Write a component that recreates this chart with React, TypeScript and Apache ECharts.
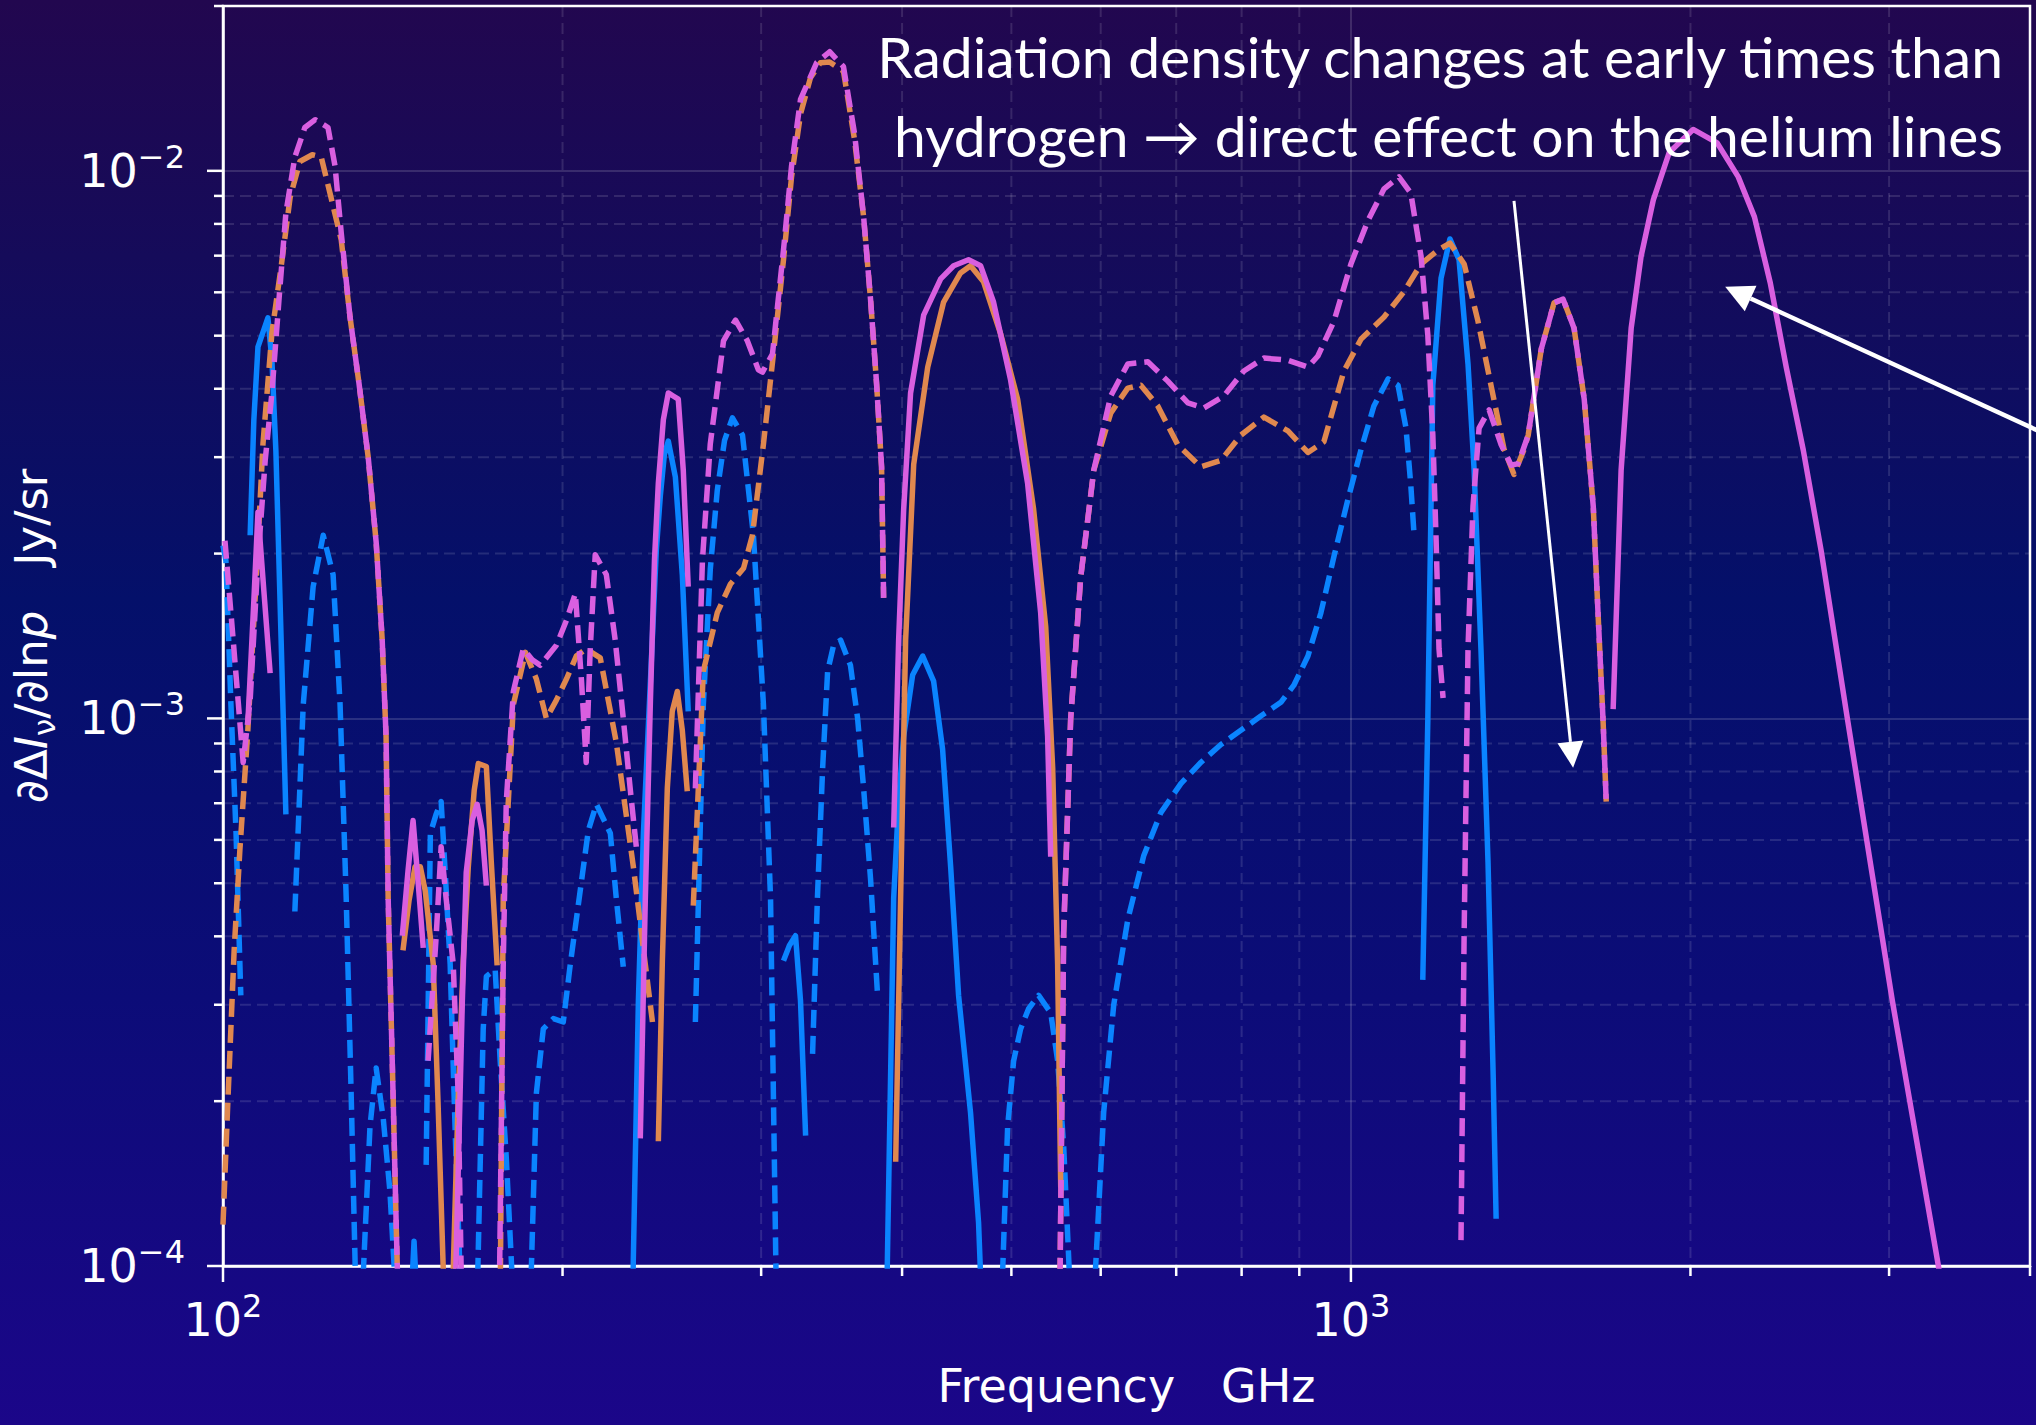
import React, { useEffect, useRef } from 'react';
import * as echarts from 'echarts';

type Pt = [number, number];
type Segments = Pt[][];

// Frequency (GHz) / response (Jy/sr) pairs; each inner array is one unbroken stretch of a curve
const blueSolid: Segments = [
  [[105.7, 2.16e-3], [106.5, 3.51e-3], [107.4, 4.77e-3], [109.6, 5.39e-3], [110.5, 4.51e-3], [111.4, 3.08e-3], [112.6, 1.39e-3], [113.7, 6.68e-4]],
  [[146.8, 8.6e-5], [147.7, 1.11e-4], [148.6, 8.6e-5]],
  [[230.7, 8.6e-5], [233.5, 3.05e-4], [235.9, 6.17e-4], [239.3, 1.17e-3], [242.2, 2.03e-3], [244.2, 2.55e-3], [246.2, 3.03e-3], [248.2, 3.21e-3], [251.8, 2.76e-3], [255.4, 1.83e-3], [258.5, 1.03e-3]],
  [[314.0, 3.61e-4], [317.8, 3.85e-4], [321.8, 4.01e-4], [325.1, 3.05e-4], [328.5, 1.73e-4]],
  [[387.6, 8.6e-5], [393.2, 4.69e-4], [397.2, 7.08e-4], [401.3, 9.27e-4], [408.7, 1.2e-3], [417.2, 1.3e-3], [426.6, 1.17e-3], [434.5, 8.78e-4], [441.7, 5.36e-4], [448.9, 3.12e-4], [460.0, 1.905e-4], [467.6, 1.2e-4], [470.5, 8.6e-5]],
  [[1158, 3.33e-4], [1170, 9.96e-4], [1182, 4.06e-3], [1202, 6.37e-3], [1224, 7.51e-3], [1247, 6.88e-3], [1270, 4.44e-3], [1286, 2.84e-3], [1304, 1.34e-3], [1323, 5.46e-4], [1337, 2.22e-4], [1345, 1.22e-4]],
];

const orangeSolid: Segments = [
  [[144.4, 3.77e-4], [146.2, 4.65e-4], [148.0, 5.36e-4], [149.6, 5.36e-4], [151.1, 4.85e-4], [153.6, 3.56e-4], [155.1, 2.0e-4], [157.1, 8.6e-5]],
  [[159.7, 8.6e-5], [161.6, 2.0e-4], [163.3, 3.61e-4], [165.0, 5.36e-4], [167.0, 7.39e-4], [168.4, 8.27e-4], [171.2, 8.17e-4], [172.9, 5.5e-4], [175.0, 3.54e-4]],
  [[243.2, 1.69e-4], [245.2, 3.61e-4], [247.7, 7.45e-4], [250.2, 1.03e-3], [252.8, 1.12e-3], [255.4, 9.51e-4], [258.0, 7.36e-4]],
  [[394.8, 1.55e-4], [398.8, 4.69e-4], [402.9, 1.39e-3], [409.6, 2.91e-3], [421.5, 4.38e-3], [435.4, 5.76e-3], [450.7, 6.51e-3], [460.0, 6.71e-3], [472.4, 6.27e-3], [489.1, 5.04e-3], [506.4, 3.83e-3], [523.2, 2.41e-3], [536.3, 1.47e-3], [544.0, 8.1e-4], [549.5, 3.56e-4], [553.0, 1.39e-4]],
];

const pinkSolid: Segments = [
  [[105.2, 9.79e-4], [106.5, 1.64e-3], [107.4, 2.38e-3], [108.7, 1.71e-3], [110.1, 1.21e-3]],
  [[144.2, 4.01e-4], [145.9, 5.27e-4], [147.4, 6.51e-4], [148.9, 5.06e-4], [150.5, 3.81e-4]],
  [[160.6, 8.6e-5], [163.0, 3.05e-4], [164.3, 5.23e-4], [166.3, 6.51e-4], [168.0, 6.97e-4], [169.7, 6.24e-4], [171.2, 4.95e-4]],
  [[234.4, 1.71e-4], [236.8, 4.65e-4], [239.3, 1.08e-3], [241.3, 1.95e-3], [243.2, 2.69e-3], [245.7, 3.51e-3], [248.2, 3.93e-3], [250.7, 3.88e-3], [253.3, 3.83e-3], [255.9, 2.84e-3], [258.5, 1.74e-3]],
  [[393.2, 6.32e-4], [397.2, 1.39e-3], [401.3, 2.41e-3], [407.0, 3.93e-3], [418.0, 5.45e-3], [432.8, 6.35e-3], [444.4, 6.71e-3], [458.1, 6.88e-3], [469.5, 6.71e-3], [482.1, 5.76e-3], [499.2, 4.15e-3], [516.8, 2.69e-3], [530.8, 1.56e-3], [538.4, 9.27e-4], [541.8, 5.59e-4]],
  [[1708, 1.04e-3], [1736, 2.84e-3], [1772, 5.16e-3], [1808, 6.97e-3], [1854, 8.85e-3], [1915, 1.08e-2], [2011, 1.19e-2], [2112, 1.125e-2], [2205, 9.75e-3], [2279, 8.24e-3], [2354, 6.24e-3], [2432, 4.38e-3], [2518, 3.09e-3], [2612, 2.02e-3], [2755, 1.0e-3], [3020, 3.05e-4], [3318, 1.0e-4], [3406, 7.0e-5]],
];

const blueDashed: Segments = [
  [[100, 2.07e-3], [100.6, 1.94e-3], [101.6, 1.08e-3], [102.7, 6.17e-4], [103.7, 3.12e-4]],
  [[115.8, 4.44e-4], [117.8, 1.06e-3], [120.2, 1.74e-3], [122.7, 2.16e-3], [125.2, 1.83e-3], [127.0, 1.06e-3], [128.6, 4.69e-4], [129.9, 2.07e-4], [131.2, 8.6e-5]],
  [[132.8, 8.6e-5], [135.0, 1.8e-4], [136.7, 2.3e-4], [138.7, 1.86e-4], [140.6, 1.37e-4], [142.4, 8.6e-5]],
  [[151.4, 1.53e-4], [152.7, 6.17e-4], [154.5, 6.68e-4], [156.1, 7.05e-4], [157.4, 5.23e-4], [159.0, 3.56e-4], [160.9, 1.576e-4], [162.6, 8.6e-5]],
  [[168.0, 8.6e-5], [170.1, 2.71e-4], [171.2, 3.38e-4], [174.3, 3.48e-4], [176.1, 2.37e-4], [178.3, 1.576e-4], [180.9, 8.6e-5]],
  [[187.3, 8.6e-5], [189.6, 2.07e-4], [192.3, 2.71e-4], [196.3, 2.83e-4], [200.3, 2.79e-4], [203.2, 3.56e-4], [206.5, 4.55e-4], [210.8, 6.24e-4], [214.3, 6.97e-4], [220.5, 6.17e-4], [223.2, 4.69e-4], [226.4, 3.52e-4]],
  [[262.3, 2.79e-4], [266.6, 1.06e-3], [270.4, 1.87e-3], [274.3, 2.61e-3], [278.4, 3.22e-3], [282.9, 3.54e-3], [288.8, 3.29e-3], [295.3, 2.16e-3], [301.4, 1.06e-3], [305.8, 4.69e-4], [309.5, 8.6e-5]],
  [[333.2, 2.44e-4], [336.5, 4.69e-4], [340.1, 8.1e-4], [343.6, 1.22e-3], [347.8, 1.36e-3], [352.8, 1.39e-3], [360.0, 1.25e-3], [365.3, 1.0e-3], [369.8, 7.45e-4], [375.1, 5.08e-4], [380.5, 3.12e-4]],
  [[490.1, 8.6e-5], [496.2, 1.8e-4], [502.3, 2.37e-4], [509.5, 2.71e-4], [517.9, 2.95e-4], [528.6, 3.12e-4], [541.8, 2.9e-4], [549.5, 2.37e-4], [556.3, 1.66e-4], [564.3, 8.6e-5]],
  [[591.6, 8.6e-5], [603.7, 1.91e-4], [616.2, 3.0e-4], [634.1, 4.29e-4], [655.2, 5.62e-4], [678.4, 6.73e-4], [706.7, 7.6e-4], [736.1, 8.31e-4], [766.9, 8.96e-4], [798.8, 9.51e-4], [832.0, 1.01e-3], [866.8, 1.07e-3], [890.1, 1.15e-3], [916.0, 1.3e-3], [940.6, 1.56e-3], [966.2, 1.98e-3], [993.8, 2.51e-3], [1021, 3.1e-3], [1048, 3.72e-3], [1079, 4.17e-3], [1101, 4.06e-3], [1119, 3.39e-3], [1130, 2.67e-3], [1137, 2.2e-3]],
];

const orangeDashed: Segments = [
  [[100, 1.19e-4], [101.0, 2.0e-4], [102.3, 3.77e-4], [103.5, 5.74e-4], [105.2, 9.51e-4], [107.0, 1.79e-3], [108.5, 3.17e-3], [110.5, 5.06e-3], [112.6, 6.68e-3], [114.7, 8.96e-3], [117.0, 1.04e-2], [120.0, 1.07e-2], [122.2, 1.06e-2], [124.4, 9.11e-3], [127.3, 7.48e-3], [129.6, 5.41e-3], [132.0, 4.09e-3], [134.5, 3.0e-3], [136.7, 2.1e-3], [138.4, 1.39e-3], [139.5, 9.27e-4], [140.1, 4.69e-4], [141.5, 2.07e-4], [142.4, 1.2e-4], [143.0, 8.6e-5]],
  [[176.1, 8.6e-5], [177.2, 4.69e-4], [180.9, 1.06e-3], [185.4, 1.32e-3], [189.6, 1.18e-3], [193.5, 1.0e-3], [197.5, 1.08e-3], [201.6, 1.18e-3], [205.7, 1.3e-3], [209.9, 1.34e-3], [216.0, 1.29e-3], [223.2, 9.04e-4], [231.1, 5.36e-4], [236.8, 3.56e-4], [240.3, 2.79e-4]],
  [[261.2, 4.55e-4], [266.6, 1.22e-3], [274.3, 1.56e-3], [281.8, 1.76e-3], [289.4, 1.88e-3], [294.7, 2.16e-3], [301.4, 3.17e-3], [307.6, 4.63e-3], [314.0, 6.88e-3], [319.2, 9.75e-3], [325.1, 1.27e-2], [331.8, 1.48e-2], [338.6, 1.576e-2], [345.0, 1.58e-2], [354.9, 1.52e-2], [363.0, 1.14e-2], [369.8, 8.24e-3], [375.1, 5.81e-3], [379.7, 4.09e-3], [383.6, 2.88e-3], [385.2, 1.66e-3]],
  [[551.9, 8.6e-5], [556.3, 4.05e-4], [564.3, 9.96e-4], [576.0, 1.81e-3], [591.6, 2.84e-3], [612.4, 3.61e-3], [634.1, 4.01e-3], [651.2, 4.06e-3], [674.2, 3.72e-3], [702.3, 3.16e-3], [736.1, 2.88e-3], [766.9, 2.96e-3], [798.8, 3.29e-3], [837.2, 3.55e-3], [879.3, 3.35e-3], [916.0, 3.06e-3], [946.3, 3.2e-3], [985.8, 4.31e-3], [1021, 4.93e-3], [1070, 5.41e-3], [1114, 6.01e-3], [1154, 6.76e-3], [1195, 7.17e-3], [1224, 7.38e-3], [1260, 6.76e-3], [1296, 5.32e-3], [1331, 4.06e-3], [1367, 3.1e-3], [1395, 2.79e-3], [1424, 3.1e-3], [1436, 3.29e-3], [1475, 4.73e-3], [1514, 5.74e-3], [1542, 5.83e-3], [1577, 5.16e-3], [1610, 3.83e-3], [1640, 2.44e-3], [1656, 1.56e-3], [1673, 9.96e-4], [1684, 7.05e-4]],
];

const pinkDashed: Segments = [
  [[100.4, 2.11e-3], [102.1, 1.39e-3], [104.2, 8.31e-4], [105.7, 1.08e-3], [107.4, 1.95e-3], [109.0, 2.96e-3], [110.5, 3.93e-3], [112.1, 5.81e-3], [113.7, 8.38e-3], [115.8, 1.06e-2], [118.2, 1.2e-2], [120.7, 1.24e-2], [123.9, 1.2e-2], [125.7, 1.02e-2], [127.3, 7.7e-3], [129.6, 5.41e-3], [132.0, 4.09e-3], [134.5, 3.0e-3], [136.7, 2.1e-3], [138.4, 1.39e-3], [139.5, 9.27e-4], [140.1, 4.69e-4], [141.5, 2.07e-4], [142.4, 1.2e-4], [143.0, 8.6e-5]],
  [[152.0, 2.37e-4], [154.5, 3.98e-4], [156.1, 5.83e-4], [157.7, 4.69e-4], [160.0, 3.56e-4], [161.6, 2.07e-4], [162.6, 9.95e-5], [163.2, 8.0e-5]],
  [[175.8, 9.0e-5], [177.2, 3.56e-4], [178.3, 7.05e-4], [180.9, 1.12e-3], [184.6, 1.34e-3], [188.0, 1.28e-3], [191.1, 1.25e-3], [197.5, 1.36e-3], [201.6, 1.51e-3], [205.3, 1.69e-3], [207.9, 1.17e-3], [209.9, 8.31e-4], [211.6, 1.33e-3], [213.8, 1.99e-3], [218.7, 1.83e-3], [222.7, 1.39e-3], [226.4, 1.0e-3], [229.7, 7.39e-4], [232.5, 5.83e-4]],
  [[262.3, 7.45e-4], [266.1, 1.94e-3], [270.4, 3.17e-3], [277.8, 4.89e-3], [284.7, 5.34e-3], [291.7, 4.89e-3], [298.3, 4.33e-3], [300.8, 4.29e-3], [307.0, 4.63e-3], [314.0, 7.17e-3], [319.2, 1.02e-2], [325.1, 1.35e-2], [336.0, 1.576e-2], [345.0, 1.65e-2], [354.9, 1.55e-2], [363.0, 1.17e-2], [369.8, 8.24e-3], [375.1, 5.81e-3], [379.7, 4.09e-3], [383.6, 2.88e-3], [385.2, 1.66e-3]],
  [[551.9, 8.6e-5], [556.3, 4.05e-4], [564.3, 9.96e-4], [576.0, 1.81e-3], [591.6, 2.84e-3], [612.4, 3.88e-3], [634.1, 4.44e-3], [660.6, 4.48e-3], [688.1, 4.13e-3], [716.9, 3.77e-3], [740.7, 3.69e-3], [771.5, 3.88e-3], [803.7, 4.31e-3], [837.2, 4.55e-3], [879.3, 4.51e-3], [916.0, 4.38e-3], [934.8, 4.59e-3], [966.2, 5.32e-3], [1000, 6.76e-3], [1035, 8.1e-3], [1070, 9.27e-3], [1103, 9.75e-3], [1130, 9.11e-3], [1154, 6.97e-3], [1170, 5.01e-3], [1182, 3.29e-3], [1190, 2.11e-3], [1197, 1.34e-3], [1207, 1.09e-3]],
  [[1252, 1.115e-4], [1260, 4.05e-4], [1270, 1.34e-3], [1283, 2.44e-3], [1299, 3.39e-3], [1326, 3.66e-3], [1359, 3.16e-3], [1387, 2.9e-3], [1407, 2.92e-3], [1436, 3.29e-3], [1475, 4.73e-3], [1514, 5.74e-3], [1542, 5.83e-3], [1577, 5.16e-3], [1610, 3.83e-3], [1640, 2.44e-3], [1656, 1.56e-3], [1673, 9.96e-4], [1684, 7.05e-4]],
];

// Axis ranges and ticks
const X_MIN = 100;
const X_MAX = 4000;
const Y_MIN = 1e-4;
const Y_MAX = 2e-2;
const xMajorTicks = [100, 1000];
const xMajorExponents = ['2', '3'];
const xMinorTicks = [200, 300, 400, 500, 600, 700, 800, 900, 2000, 3000, 4000];
const yMajorTicks = [1e-4, 1e-3, 1e-2];
const yMajorExponents = ['\u22124', '\u22123', '\u22122'];
const yMinorTicks = [2e-4, 3e-4, 4e-4, 5e-4, 6e-4, 7e-4, 8e-4, 9e-4, 2e-3, 3e-3, 4e-3, 5e-3, 6e-3, 7e-3, 8e-3, 9e-3, 2e-2];

// Annotation text and arrows (arrow ends in data coordinates: [GHz, Jy/sr])
const noteLines = ['Radiation density changes at early times than', 'hydrogen \u2192 direct effect on the helium lines'];
const arrowDown: [Pt, Pt] = [[1395, 8.81e-3], [1574, 8.13e-4]];
const arrowLeft: [Pt, Pt] = [[4300, 3.18e-3], [2147, 6.14e-3]];

const BLUE = '#0a84ff';
const ORANGE = '#e0884f';
const PINK = '#d95fe0';
const WHITE = '#ffffff';
const FONT = 'DejaVu Sans';
const MAJOR_GRID = 'rgba(255,255,255,0.14)';
const MINOR_GRID = 'rgba(255,255,255,0.12)';
const LINE_WIDTH = 5.5;
const DASH = [18, 8];

const curves = [
  { segs: blueSolid, color: BLUE, dashed: false },
  { segs: blueDashed, color: BLUE, dashed: true },
  { segs: orangeSolid, color: ORANGE, dashed: false },
  { segs: orangeDashed, color: ORANGE, dashed: true },
  { segs: pinkSolid, color: PINK, dashed: false },
  { segs: pinkDashed, color: PINK, dashed: true },
];

const powerLabel = (ticks: number[], exps: string[]) => (value: number) => {
  const i = ticks.findIndex((t) => Math.abs(Math.log10(value) - Math.log10(t)) < 1e-6);
  return i < 0 ? '' : `{b|10}{s|${exps[i]}}`;
};

const tickRich = {
  b: { fontSize: 46, lineHeight: 60, fontFamily: FONT, color: WHITE },
  s: { fontSize: 32, lineHeight: 30, verticalAlign: 'top', fontFamily: FONT, color: WHITE },
};

function buildOption(): any {
  const lineSeries = curves.flatMap((c) =>
    c.segs.map((seg) => ({
      type: 'line',
      data: seg,
      showSymbol: false,
      symbol: 'none',
      silent: true,
      clip: true,
      z: 3,
      lineStyle: { color: c.color, width: LINE_WIDTH, type: c.dashed ? DASH : 'solid', cap: 'butt', join: 'round' },
    }))
  );

  const xTickSeries = {
    type: 'custom',
    silent: true,
    clip: false,
    z: 1,
    encode: { x: 0, y: 1 },
    data: [...xMajorTicks.map((v) => [v, Y_MIN, 1]), ...xMinorTicks.map((v) => [v, Y_MIN, 0])],
    renderItem: (params: any, api: any) => {
      const cs = params.coordSys;
      const major = api.value(2) === 1;
      const x = api.coord([api.value(0), api.value(1)])[0];
      const bottom = cs.y + cs.height;
      const children: any[] = [
        { type: 'line', shape: { x1: x, y1: bottom, x2: x, y2: bottom + (major ? 16 : 10) }, style: { stroke: WHITE, lineWidth: 2.5 } },
      ];
      if (!major && x < cs.x + cs.width - 1) {
        children.push({ type: 'line', shape: { x1: x, y1: cs.y, x2: x, y2: bottom }, style: { stroke: MINOR_GRID, lineWidth: 2, lineDash: [11, 6] } });
      }
      return { type: 'group', children };
    },
  };

  const yTickSeries = {
    type: 'custom',
    silent: true,
    clip: false,
    z: 1,
    encode: { x: 0, y: 1 },
    data: [...yMajorTicks.map((v) => [X_MIN, v, 1]), ...yMinorTicks.map((v) => [X_MIN, v, 0])],
    renderItem: (params: any, api: any) => {
      const cs = params.coordSys;
      const major = api.value(2) === 1;
      const y = api.coord([api.value(0), api.value(1)])[1];
      const children: any[] = [
        { type: 'line', shape: { x1: cs.x - (major ? 16 : 9), y1: y, x2: cs.x, y2: y }, style: { stroke: WHITE, lineWidth: 2.5 } },
      ];
      if (!major && y > cs.y + 1) {
        children.push({ type: 'line', shape: { x1: cs.x, y1: y, x2: cs.x + cs.width, y2: y }, style: { stroke: MINOR_GRID, lineWidth: 2, lineDash: [11, 6] } });
      }
      return { type: 'group', children };
    },
  };

  return {
    animation: false,
    backgroundColor: new echarts.graphic.LinearGradient(0, 0, 0, 1, [
      { offset: 0, color: '#22074f' },
      { offset: 0.18, color: '#150b5a' },
      { offset: 0.42, color: '#04106a' },
      { offset: 0.7, color: '#0c0c78' },
      { offset: 1, color: '#1b0689' },
    ]),
    grid: {
      left: 223,
      right: 6,
      top: 6,
      bottom: 159,
      show: true,
      borderColor: WHITE,
      borderWidth: 2.5,
      backgroundColor: 'transparent',
      containLabel: false,
      outerBoundsMode: 'none',
    },
    xAxis: {
      type: 'log',
      logBase: 10,
      min: X_MIN,
      max: X_MAX,
      axisLine: { show: true, lineStyle: { color: WHITE, width: 2.5 } },
      axisTick: { show: false },
      minorTick: { show: false },
      minorSplitLine: { show: false },
      axisLabel: { formatter: powerLabel(xMajorTicks, xMajorExponents), margin: 24, color: WHITE, showMaxLabel: false, showMinLabel: true, rich: tickRich },
      splitLine: { show: true, lineStyle: { color: MAJOR_GRID, width: 2 } },
      name: 'Frequency\u2003GHz',
      nameLocation: 'middle',
      nameGap: 92,
      nameTextStyle: { color: WHITE, fontSize: 46, fontFamily: FONT, lineHeight: 56 },
    },
    yAxis: {
      type: 'log',
      logBase: 10,
      min: Y_MIN,
      max: Y_MAX,
      axisLine: { show: true, lineStyle: { color: WHITE, width: 2.5 } },
      axisTick: { show: false },
      minorTick: { show: false },
      minorSplitLine: { show: false },
      axisLabel: { formatter: powerLabel(yMajorTicks, yMajorExponents), margin: 38, color: WHITE, showMaxLabel: false, showMinLabel: true, rich: tickRich },
      splitLine: { show: true, lineStyle: { color: MAJOR_GRID, width: 2 } },
      name: '\u2202\u0394{i|I}{sub|\u03bd}/\u2202ln{i|p}\u2003Jy/sr',
      nameLocation: 'middle',
      nameGap: 164,
      nameTextStyle: {
        color: WHITE,
        fontSize: 45,
        fontFamily: FONT,
        lineHeight: 56,
        rich: {
          i: { fontSize: 45, fontStyle: 'italic', fontFamily: FONT, color: WHITE, lineHeight: 56 },
          sub: { fontSize: 31, fontFamily: FONT, color: WHITE, lineHeight: 36, verticalAlign: 'bottom' },
        },
      },
    },
    series: [xTickSeries, yTickSeries, ...lineSeries],
  };
}

function arrowElements(chart: any, ends: [Pt, Pt], width: number, headLen: number, headHalf: number) {
  const tail = chart.convertToPixel({ xAxisIndex: 0, yAxisIndex: 0 }, ends[0]) as number[];
  const tip = chart.convertToPixel({ xAxisIndex: 0, yAxisIndex: 0 }, ends[1]) as number[];
  const dx = tip[0] - tail[0];
  const dy = tip[1] - tail[1];
  const len = Math.hypot(dx, dy);
  const ux = dx / len;
  const uy = dy / len;
  const bx = tip[0] - ux * headLen;
  const by = tip[1] - uy * headLen;
  return [
    { type: 'line', z: 20, silent: true, shape: { x1: tail[0], y1: tail[1], x2: bx, y2: by }, style: { stroke: WHITE, lineWidth: width } },
    {
      type: 'polygon',
      z: 20,
      silent: true,
      shape: { points: [[tip[0], tip[1]], [bx - uy * headHalf, by + ux * headHalf], [bx + uy * headHalf, by - ux * headHalf]] },
      style: { fill: WHITE },
    },
  ];
}

export default function App() {
  const ref = useRef<HTMLDivElement>(null);

  useEffect(() => {
    if (!ref.current) return;
    const chart = echarts.init(ref.current, null, { renderer: 'svg' });
    chart.setOption(buildOption());

    const noteText = noteLines.map((t, i) => ({
      type: 'text',
      z: 20,
      silent: true,
      x: 2003,
      y: 56 + i * 79,
      style: { text: t, fill: WHITE, fontSize: 57, fontFamily: 'Lato', align: 'right', verticalAlign: 'middle' },
    }));

    chart.setOption({
      graphic: [
        ...noteText,
        ...arrowElements(chart, arrowDown, 3, 26, 13),
        ...arrowElements(chart, arrowLeft, 4.5, 28, 14),
      ],
    });

    return () => chart.dispose();
  }, []);

  return <div ref={ref} style={{ position: 'fixed', left: 0, top: 0, width: 2036, height: 1425 }} />;
}
